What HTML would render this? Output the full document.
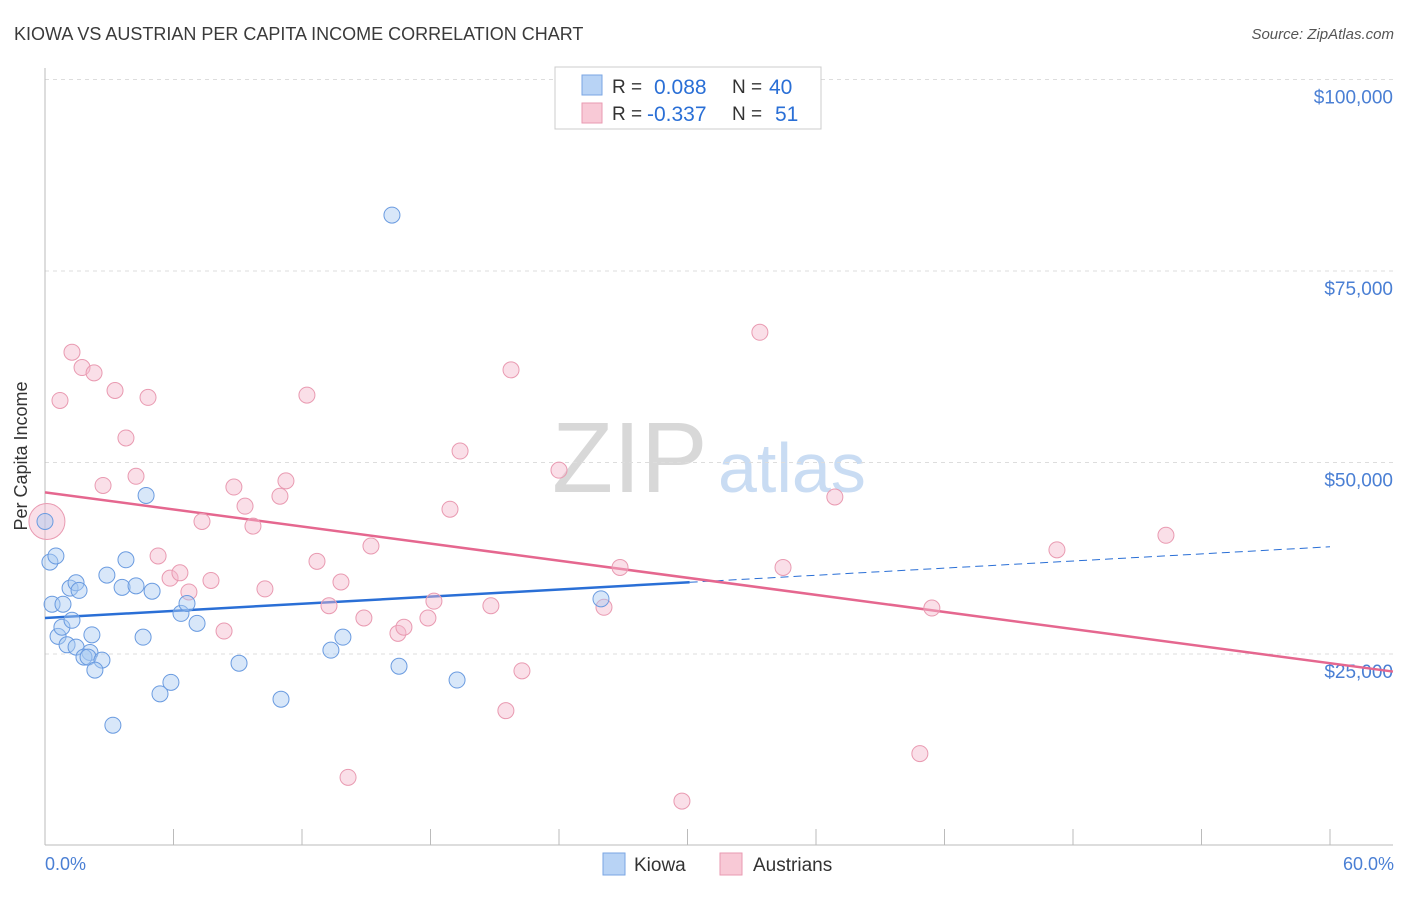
<!DOCTYPE html>
<html><head><meta charset="utf-8"><style>
body{margin:0;background:#fff;font-family:"Liberation Sans",sans-serif;}
svg text{font-family:"Liberation Sans",sans-serif;}
</style></head><body>
<svg id="chart" width="1406" height="892" viewBox="0 0 1406 892">
<text x="14" y="40" font-size="18" fill="#3a3a3a">KIOWA VS AUSTRIAN PER CAPITA INCOME CORRELATION CHART</text>
<text x="1394" y="39" font-size="15" fill="#555" font-style="italic" text-anchor="end">Source: ZipAtlas.com</text>
<g>
<text x="552" y="492" font-size="100" fill="#d8d8d8" font-family="Liberation Serif,serif">ZIP</text>
<text x="718" y="492" font-size="70" fill="#c9dcf3">atlas</text>
</g>
<g id="grid"></g>
<g id="axes"></g>
<g id="lines"></g>
<g id="points"></g>
<text x="27" y="456" font-size="18" fill="#333" text-anchor="middle" transform="rotate(-90 27 456)">Per Capita Income</text>
<text x="45" y="870" font-size="18" fill="#4a7fd4">0.0%</text>
<text x="1394" y="870" font-size="18" fill="#4a7fd4" text-anchor="end">60.0%</text>
<g>
<rect x="555" y="67" width="266" height="62" fill="#fff" stroke="#ccc"/>
<rect x="582" y="75" width="20" height="20" fill="#b8d3f5" stroke="#7aa6e3"/>
<text x="612" y="93" font-size="19" fill="#333">R =</text>
<text x="654" y="94" font-size="21" fill="#2a6fd6">0.088</text>
<text x="732" y="93" font-size="19" fill="#333">N =</text>
<text x="769" y="94" font-size="21" fill="#2a6fd6">40</text>
<rect x="582" y="103" width="20" height="20" fill="#f8c9d6" stroke="#e99ab1"/>
<text x="612" y="120" font-size="19" fill="#333">R =</text>
<text x="647" y="121" font-size="21" fill="#2a6fd6">-0.337</text>
<text x="732" y="120" font-size="19" fill="#333">N =</text>
<text x="775" y="121" font-size="21" fill="#2a6fd6">51</text>
</g>
<g>
<rect x="603" y="853" width="22" height="22" fill="#b8d3f5" stroke="#7aa6e3"/>
<text x="634" y="871" font-size="19" fill="#333">Kiowa</text>
<rect x="720" y="853" width="22" height="22" fill="#f8c9d6" stroke="#e99ab1"/>
<text x="753" y="871" font-size="19" fill="#333">Austrians</text>
</g>
</svg>
<script>
const yTicks=[25,50,75,100];
const yTickLabels=["$25,000","$50,000","$75,000","$100,000"];
const xTicks=[0,6,12,18,24,30,36,42,48,54,60];
const kiowaX=[0,0.23,0.51,0.33,0.84,0.61,0.79,1.26,1.03,1.45,1.17,1.45,1.59,2.19,2.10,1.82,2.01,2.66,2.33,2.89,3.17,3.60,3.78,4.25,4.58,4.72,5.00,5.37,5.88,6.35,6.63,7.10,9.06,11.02,13.35,13.91,16.20,16.53,19.24,25.96];
const kiowaY=[42.3,37.0,37.8,31.5,31.5,27.3,28.5,29.4,26.2,25.9,33.6,34.3,33.3,27.5,25.2,24.6,24.6,24.2,22.9,35.3,15.7,33.7,37.3,33.9,27.2,45.7,33.2,19.8,21.3,30.3,31.6,29.0,23.8,19.1,25.5,27.2,82.3,23.4,21.6,32.2];
const ausX=[0.09,0.70,1.26,1.73,2.29,2.71,3.27,3.78,4.25,4.81,5.28,5.84,6.30,6.72,7.33,7.75,8.36,8.82,9.34,9.71,10.27,10.97,11.25,12.23,12.70,13.26,13.82,14.15,14.89,15.22,16.48,16.76,17.88,18.16,18.91,19.38,20.82,21.52,21.76,22.27,24.00,26.10,26.85,29.74,33.38,34.46,36.88,40.85,41.41,47.25,52.34];
const ausY=[42.3,58.1,64.4,62.4,61.7,47.0,59.4,53.2,48.2,58.5,37.8,34.9,35.6,33.1,42.3,34.6,28.0,46.8,44.3,41.7,33.5,45.6,47.6,58.8,37.1,31.3,34.4,8.9,29.7,39.1,27.7,28.5,29.7,31.9,43.9,51.5,31.3,17.6,62.1,22.8,49.0,31.1,36.3,5.8,67.0,36.3,45.5,12.0,31.0,38.6,40.5];
const kiowaTrend=[29.7,39.0];
const ausTrend=[46.1,23.8];
const NS="http://www.w3.org/2000/svg";
const X=v=>45+v*(1285/60);
const Y=v=>845.5-v*7.66;
function mk(tag,attrs,parent){const e=document.createElementNS(NS,tag);for(const k in attrs)e.setAttribute(k,attrs[k]);document.getElementById(parent).appendChild(e);return e;}
yTicks.forEach((t,i)=>{
 const g=mk('line',{x1:45,x2:1393,y1:Y(t),y2:Y(t),stroke:'#ddd','stroke-dasharray':'4 4'},'grid');
 
 
 const l=mk('text',{x:1393,y:Y(t)+24,'font-size':19,fill:'#4a7fd4','text-anchor':'end'},'grid');
 l.textContent=yTickLabels[i];
 
 
});
const ax=mk('line',{x1:45,x2:45,y1:68,y2:845,stroke:'#bbb'},'axes');


const bx=mk('line',{x1:45,x2:1393,y1:845,y2:845,stroke:'#bbb'},'axes');


xTicks.forEach(t=>{
 const k=mk('line',{x1:X(t),x2:X(t),y1:829,y2:845,stroke:'#bbb'},'axes');
 
 
});
function pts(xs,ys,fill,stroke,name){xs.forEach((x,i)=>{
 const r=(name==='austrians-point'&&i===0)?18:8;
 const c=mk('circle',{cx:X(x),cy:Y(ys[i]),r:r,fill:fill,'fill-opacity':0.45,stroke:stroke,'stroke-width':1},'points');
 
 
});}
pts(ausX,ausY,'#f5b9cb','#e99ab1','austrians-point');
pts(kiowaX,kiowaY,'#a9c9f1','#6a9be0','kiowa-point');
const kb=kiowaTrend[0],ks=(kiowaTrend[1]-kiowaTrend[0])/60;
const l1=mk('line',{x1:X(0),y1:Y(kb),x2:X(30.1),y2:Y(kb+ks*30.1),stroke:'#2a6fd6','stroke-width':2.5},'lines');


const l2=mk('line',{x1:X(30.1),y1:Y(kb+ks*30.1),x2:X(60),y2:Y(kb+ks*60),stroke:'#2a6fd6','stroke-width':1,'stroke-dasharray':'8 5'},'lines');


const ab=ausTrend[0],as=(ausTrend[1]-ausTrend[0])/60;
const l3=mk('line',{x1:X(0),y1:Y(ab),x2:X(62.94),y2:Y(ab+as*62.94),stroke:'#e5678f','stroke-width':2.5},'lines');


</script>
</body></html>
